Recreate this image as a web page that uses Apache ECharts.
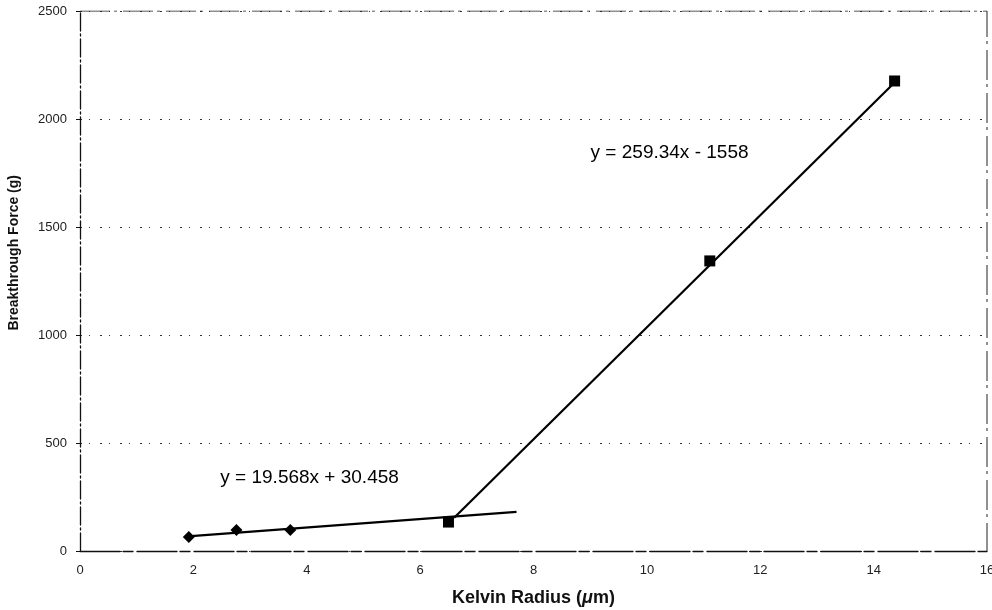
<!DOCTYPE html>
<html>
<head>
<meta charset="utf-8">
<script src="https://cdn.jsdelivr.net/npm/echarts@6/dist/echarts.min.js"></script>
<style>
  html, body { margin: 0; padding: 0; background: #fff; }
  #chart { width: 992px; height: 610px; }
</style>
</head>
<body>
<div id="chart"></div>
<script>
// Measured samples: small pores (diamonds) and large pores (squares)
const smallRadius = [1.92, 2.76, 3.71];
const smallForce = [65, 97, 97];
const largeRadius = [6.5, 11.11, 14.37];
const largeForce = [134, 1343, 2176];

// Linear fits shown on the chart
const fitSmall = { slope: 19.568, intercept: 30.458, from: 1.9, to: 7.7, text: 'y = 19.568x + 30.458' };
const fitLarge = { slope: 259.34, intercept: -1558, from: 6.6, to: 14.37, text: 'y = 259.34x - 1558' };

// Where each equation sits, in data units
const fitSmallLabelAt = [4.05, 338];
const fitLargeLabelAt = [10.4, 1843];

const xTicks = [0, 2, 4, 6, 8, 10, 12, 14, 16];
const yTicks = [0, 500, 1000, 1500, 2000, 2500];

function fitLine(f) {
  return [[f.from, f.slope * f.from + f.intercept], [f.to, f.slope * f.to + f.intercept]];
}

const font = 'Liberation Sans, Arial, sans-serif';
const chart = echarts.init(document.getElementById('chart'));

const dashGrid = { color: '#333', width: 1, type: [2, 7, 1, 10] };

chart.setOption({
  backgroundColor: '#fff',
  animation: false,
  grid: { left: 80, right: 5, top: 11, bottom: 59, show: false, containLabel: false, outerBoundsMode: 'none' },
  xAxis: {
    type: 'value', min: xTicks[0], max: xTicks[xTicks.length - 1], interval: 2,
    name: '{a|Kelvin Radius (}{b|μ}{a|m)}',
    nameLocation: 'middle', nameGap: 38,
    nameTextStyle: {
      rich: {
        a: { fontFamily: font, fontSize: 18, fontWeight: 'bold', color: '#111' },
        b: { fontFamily: font, fontSize: 18, fontWeight: 'bold', fontStyle: 'italic', color: '#111' }
      }
    },
    axisLine: { show: true, onZero: false, lineStyle: { color: '#111', width: 1.3, type: [40, 3, 10, 4] } },
    axisTick: { show: false },
    axisLabel: { fontFamily: font, fontSize: 13, color: '#222', margin: 13 },
    splitLine: { show: false }
  },
  yAxis: {
    type: 'value', min: yTicks[0], max: yTicks[yTicks.length - 1], interval: 500,
    axisLine: { show: true, lineStyle: { color: '#111', width: 1.3, type: [18, 3, 2, 3] } },
    axisTick: { show: true, length: 4, lineStyle: { color: '#111' } },
    axisLabel: { fontFamily: font, fontSize: 13, color: '#222', margin: 13, formatter: v => String(v) },
    splitLine: { show: true, lineStyle: dashGrid }
  },
  graphic: [{
    type: 'text', left: 7, top: 175,
    rotation: Math.PI / 2,
    style: { text: 'Breakthrough Force (g)', font: 'bold 14px ' + font, fill: '#111' }
  }],
  series: [
    {
      name: 'frame', type: 'line', silent: true, symbol: 'none',
      data: [[0, 2500], [16, 2500], [16, 0]],
      lineStyle: { color: '#222', width: 1, type: [30, 4, 3, 6] }, z: 1
    },
    {
      name: 'fitSmall', type: 'line', symbol: 'none', data: fitLine(fitSmall),
      lineStyle: { color: '#000', width: 2.2 }, z: 3
    },
    {
      name: 'fitLarge', type: 'line', symbol: 'none', data: fitLine(fitLarge),
      lineStyle: { color: '#000', width: 2.2 }, z: 3
    },
    {
      name: 'small', type: 'scatter', symbol: 'diamond', symbolSize: 12,
      itemStyle: { color: '#000', opacity: 1 },
      data: smallRadius.map((x, i) => [x, smallForce[i]]), z: 4
    },
    {
      name: 'large', type: 'scatter', symbol: 'rect', symbolSize: 11,
      itemStyle: { color: '#000', opacity: 1 },
      data: largeRadius.map((x, i) => [x, largeForce[i]]), z: 4
    },
    {
      name: 'equations', type: 'scatter', symbolSize: 0, silent: true,
      itemStyle: { opacity: 1 },
      data: [
        { value: fitSmallLabelAt, label: { formatter: fitSmall.text } },
        { value: fitLargeLabelAt, label: { formatter: fitLarge.text } }
      ],
      label: { show: true, position: 'inside', fontFamily: font, fontSize: 19, color: '#000' },
      z: 5
    }
  ]
});
</script>
</body>
</html>
